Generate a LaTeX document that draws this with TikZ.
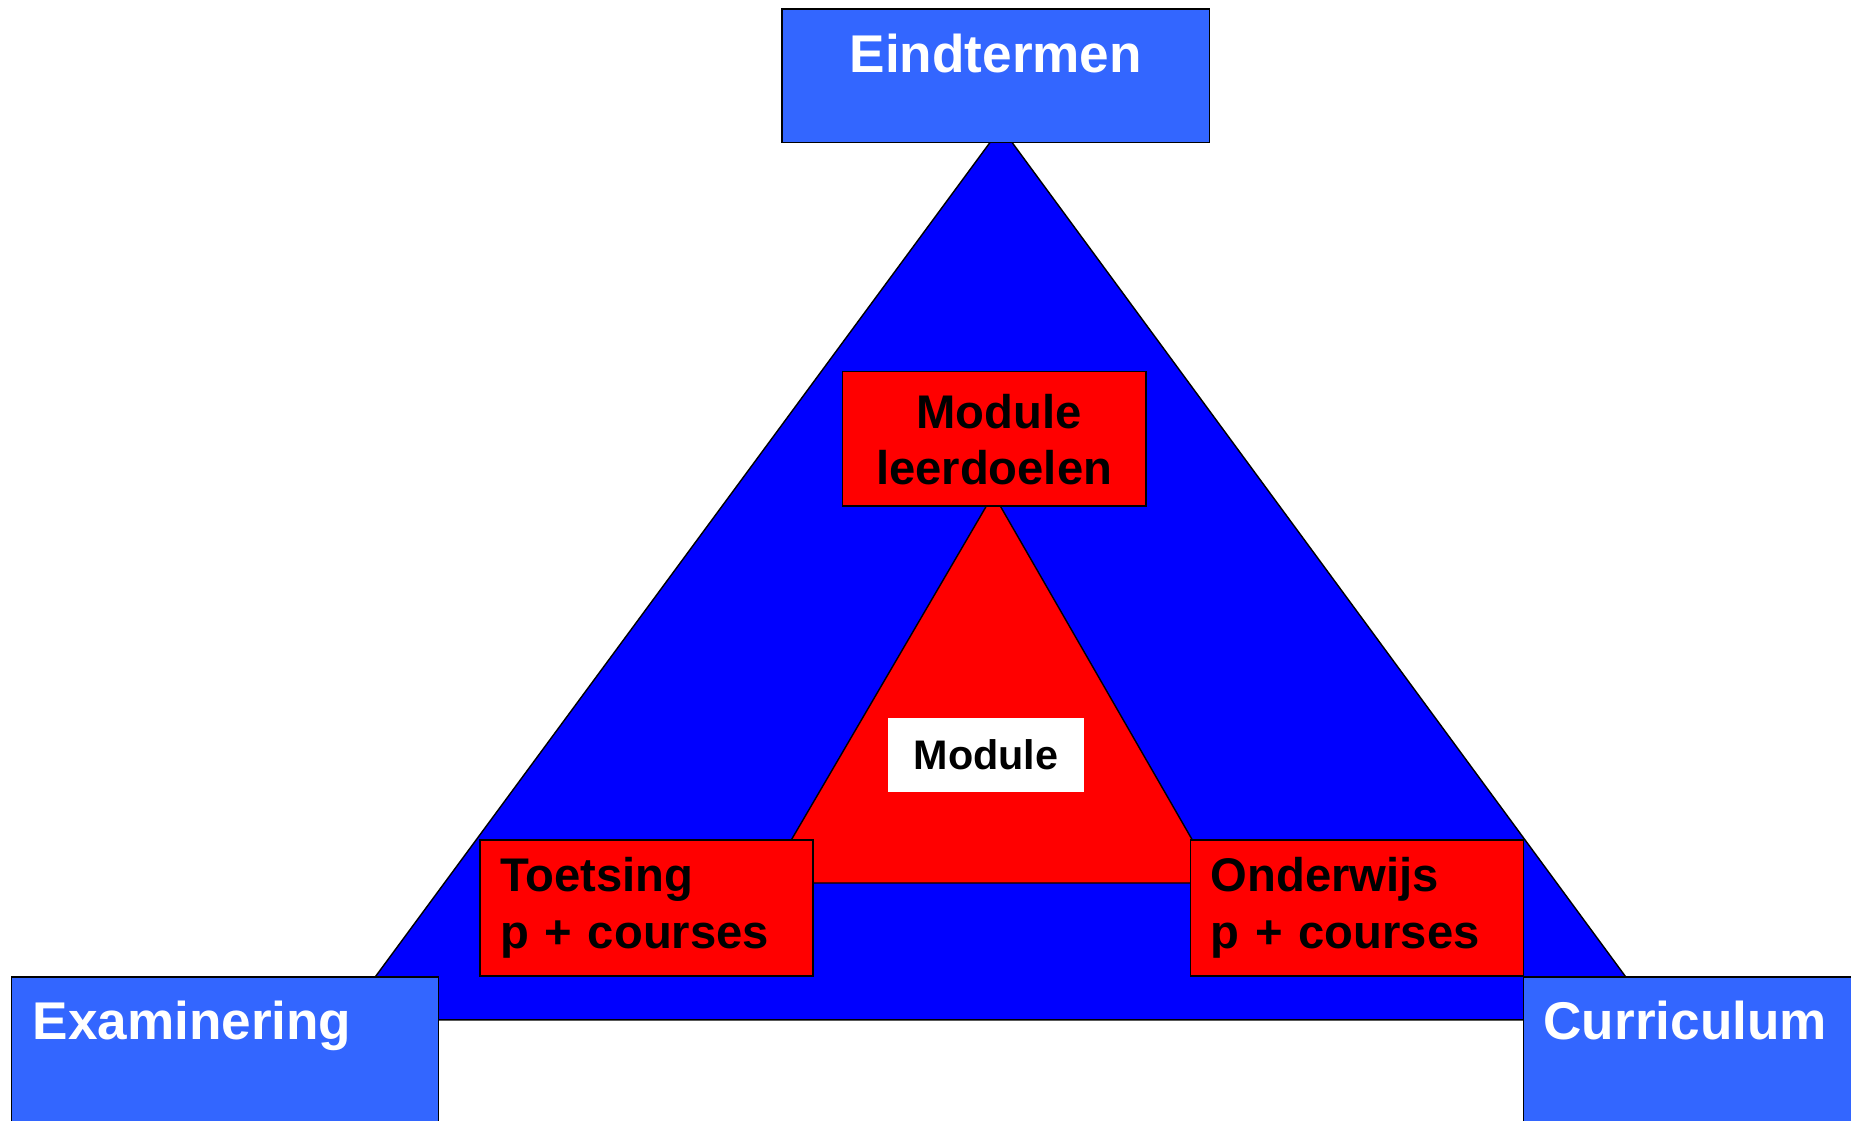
\documentclass[tikz,border=0pt]{standalone}
\usepackage{fontspec}
\setmainfont{Liberation Sans}
\usetikzlibrary{positioning}
\definecolor{boxblue}{HTML}{3366FF}
\definecolor{triblue}{HTML}{0000FF}
\definecolor{trired}{HTML}{FF0000}
\tikzstyle{bluebox} = [draw, rectangle, fill=boxblue, text=white, line width=1.2pt, inner ysep=0pt, font=\bfseries\fontsize{45}{54}\selectfont]
\tikzstyle{redbox} = [draw, rectangle, fill=trired, line width=1.2pt, inner xsep=17pt, inner ysep=0pt, font=\bfseries\fontsize{40}{48}\selectfont]
\tikzstyle{triangle} = [draw=black, line width=1.2pt, line join=miter]

\begin{document}
\begin{tikzpicture}[x=1pt, y=-1pt]
		\clip (0,0) rectangle (1568,949);
		\fill[white] (0,0) rectangle (1568,949);

		% corners of the triangles
		\coordinate (bigtop) at (848,108);
		\coordinate (bigleft) at (291,864);
		\coordinate (bigright) at (1404,864);
		\coordinate (smalltop) at (841.5,418.5);
		\coordinate (smallleft) at (649,748);
		\coordinate (smallright) at (1031,748);

		% outer triangle
		\filldraw[triangle, fill=triblue] (bigtop) -- (bigleft) -- (bigright) -- cycle;

		% eindtermen
		\node[bluebox, anchor=north west, inner xsep=0pt, minimum width=362pt, text height=54pt, text depth=59pt] (eind) at (662,7) {Eindtermen};

		% inner triangle
		\filldraw[triangle, fill=trired] (smalltop) -- (smallleft) -- (smallright) -- cycle;

		% module leerdoelen
		\node[redbox, anchor=north west, minimum width=257pt, text height=96pt, text depth=18pt, align=center] (leerdoel) at (713,314) {\hspace{8pt}Module\\leerdoelen};

		% module
		\node[rectangle, fill=white, anchor=north west, minimum width=166pt, minimum height=63pt, inner sep=0pt, font=\bfseries\fontsize{35}{42}\selectfont] (module) at (752,608) {Module};

		% toetsing and onderwijs
		\node[redbox, anchor=north west, text width=248pt, text height=44pt, text depth=71pt, align=left] (toets) at (406,711) {Toetsing\\p + courses};
		\node[redbox, anchor=north west, text width=248pt, text height=44pt, text depth=71pt, align=left] (onderwijs) at (1008,711) {Onderwijs\\p + courses};

		% examinering and curriculum
		\node[bluebox, anchor=north west, inner xsep=18pt, text width=326pt, align=left, text height=53pt, text depth=100pt] (exam) at (9,827) {Examinering};
		\node[bluebox, anchor=north west, inner xsep=17pt, text width=320pt, align=left, text height=53pt, text depth=100pt] (curr) at (1290,827) {Curriculum};
\end{tikzpicture}
\end{document}
